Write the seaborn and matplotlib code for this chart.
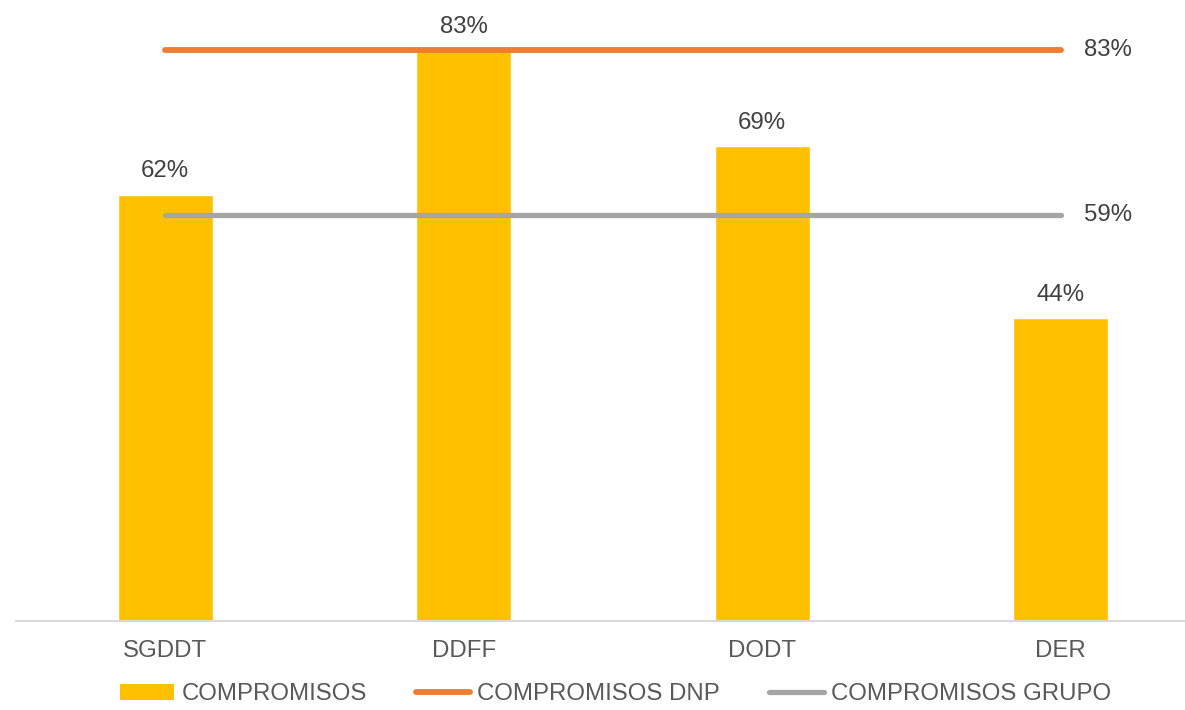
import matplotlib
matplotlib.use("Agg")
import matplotlib.pyplot as plt
import seaborn as sns
from matplotlib.lines import Line2D
from matplotlib.patches import Patch

categories = ["SGDDT", "DDFF", "DODT", "DER"]
compromisos = [0.62, 0.83, 0.69, 0.44]
dnp_value = 0.83
grupo_value = 0.59
series_names = ["COMPROMISOS", "COMPROMISOS DNP", "COMPROMISOS GRUPO"]

BAR = "#FFC000"
ORANGE = "#ED7D31"
GRAY = "#A5A5A5"
TXT = "#595959"
LBL = "#404040"
FS = 17.3

sns.set_theme(style="white")
plt.rcParams["font.family"] = ["Liberation Sans", "DejaVu Sans"]

fig = plt.figure(figsize=(11.85, 7.10), dpi=100)
W, H = 1185, 710
ax = fig.add_axes([16 / W, (H - 621) / H, 1194 / W, 621 / H])

sns.barplot(x=categories, y=compromisos, color=BAR, width=0.318,
            saturation=1, ax=ax, zorder=2)

x_idx = list(range(len(categories)))
ax.plot([x_idx[0], x_idx[-1]], [dnp_value, dnp_value], color=ORANGE,
        lw=4.2, solid_capstyle="round", zorder=3)
ax.plot([x_idx[0], x_idx[-1]], [grupo_value, grupo_value], color=GRAY,
        lw=3.8, solid_capstyle="round", zorder=3)

ax.set_xlim(-0.5, 3.5)
ax.set_ylim(0, 0.903)

for i, v in enumerate(compromisos):
    ax.annotate(f"{v*100:.0f}%", (i, v), xytext=(0, 9), textcoords="offset points",
                ha="center", va="bottom", fontsize=FS, color=LBL)

ax.text(3.077, dnp_value, f"{dnp_value*100:.0f}%", ha="left", va="center",
        fontsize=FS, color=LBL)
ax.text(3.077, grupo_value, f"{grupo_value*100:.0f}%", ha="left", va="center",
        fontsize=FS, color=LBL)

for s in ["top", "right", "left"]:
    ax.spines[s].set_visible(False)
ax.spines["bottom"].set_color("#D9D9D9")
ax.spines["bottom"].set_linewidth(1.5)
ax.set_yticks([])
ax.tick_params(axis="x", length=0, pad=14, labelsize=FS, labelcolor=TXT)
ax.set_xlabel("")
ax.set_ylabel("")

handles = [
    Patch(facecolor=BAR, edgecolor="none"),
    Line2D([0], [0], color=ORANGE, lw=4.2, solid_capstyle="round"),
    Line2D([0], [0], color=GRAY, lw=3.8, solid_capstyle="round"),
]
leg = fig.legend(handles, series_names, loc="center",
                 bbox_to_anchor=(0.5195, 0.022), ncol=3, frameon=False,
                 fontsize=FS, handlelength=2.25, handleheight=0.6,
                 handletextpad=0.3, columnspacing=2.05, borderpad=0,
                 borderaxespad=0)
for t in leg.get_texts():
    t.set_color(TXT)

fig.savefig("out.png", dpi=100)
